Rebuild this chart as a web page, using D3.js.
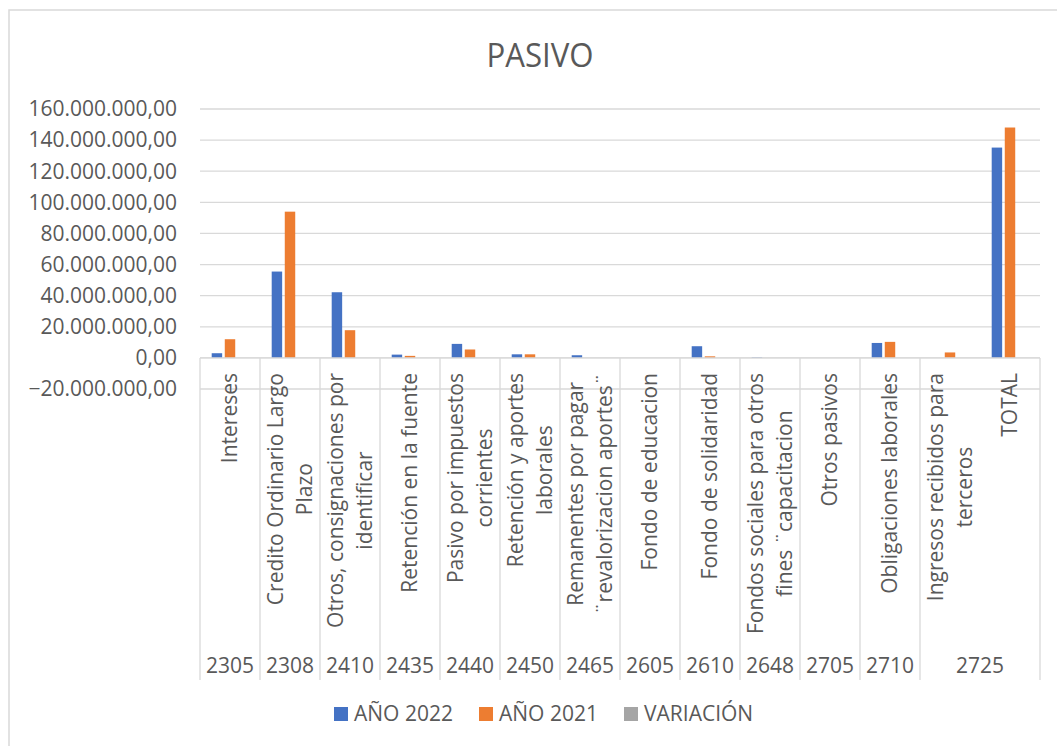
<!DOCTYPE html>
<html>
<head>
<meta charset="utf-8">
<script src="https://cdn.jsdelivr.net/npm/d3@7"></script>
<style>
  html, body { margin: 0; padding: 0; background: #fff; }
  svg { display: block; }
  text { font-family: "Open Sans", "Noto Sans", sans-serif; fill: #595959; }
</style>
</head>
<body>
<svg id="chart" width="1057" height="746"></svg>
<script>
// ---- data ----
const categories = [
  "Intereses",
  "Credito Ordinario Largo\nPlazo",
  "Otros, consignaciones por\nidentificar",
  "Retención en la fuente",
  "Pasivo por impuestos\ncorrientes",
  "Retención y aportes\nlaborales",
  "Remanentes por pagar\n¨revalorizacion aportes¨",
  "Fondo de educacion",
  "Fondo de solidaridad",
  "Fondos sociales para otros\nfines ¨capacitacion",
  "Otros pasivos",
  "Obligaciones laborales",
  "Ingresos recibidos para\nterceros",
  "TOTAL"
];
const codes = ["2305","2308","2410","2435","2440","2450","2465","2605","2610","2648","2705","2710","2725","2725"];
const seriesNames = ["AÑO 2022", "AÑO 2021", "VARIACIÓN"];
const ano2022 = [3000000, 55500000, 42200000, 2100000, 9000000, 2300000, 1700000, 0, 7500000, 300000, 0, 9600000, 0, 135200000];
const ano2021 = [12000000, 94000000, 17800000, 1300000, 5400000, 2300000, 0, 0, 1000000, 0, 0, 10300000, 3500000, 148100000];
const variacion = [0, 0, 0, 0, 0, 0, 0, 0, 0, 0, 0, 0, 0, 0];
const yTicks = [-20000000, 0, 20000000, 40000000, 60000000, 80000000, 100000000, 120000000, 140000000, 160000000];
const title = "PASIVO";

const colors = ["#4472C4", "#ED7D31", "#A5A5A5"];
const seriesValues = [ano2022, ano2021, variacion];

const svg = d3.select("#chart");

// chart border (only top/left visible in the frame)
svg.append("rect").attr("x", 9).attr("y", 10).attr("width", 1200).attr("height", 900)
  .attr("fill", "none").attr("stroke", "#d9d9d9").attr("stroke-width", 1.5);

const plotLeft = 200, plotRight = 1040, plotTop = 109, plotBottom = 389;

const x0 = d3.scaleBand().domain(d3.range(categories.length)).range([plotLeft, plotRight]).paddingInner(0).paddingOuter(0);
const x1 = d3.scaleBand().domain(d3.range(seriesNames.length)).range([11.7, 48.3]).paddingInner(0.2).paddingOuter(0);
const y = d3.scaleLinear().domain([-20000000, 160000000]).range([plotBottom, plotTop]);

// number format 160.000.000,00
const loc = d3.formatLocale({decimal: ",", thousands: ".", grouping: [3], currency: ["", ""]});
const fmt = loc.format(",.2f");

// gridlines
svg.append("g").selectAll("line").data(yTicks).join("line")
  .attr("x1", plotLeft).attr("x2", plotRight)
  .attr("y1", d => y(d)).attr("y2", d => y(d))
  .attr("stroke", "#d9d9d9").attr("stroke-width", 1.3);

// y axis labels
svg.append("g").selectAll("text").data(yTicks).join("text")
  .attr("x", 177).attr("y", d => y(d)).attr("dy", "0.35em")
  .attr("text-anchor", "end").attr("font-size", 21)
  .text(d => fmt(d));

// bars
const gBars = svg.append("g");
seriesValues.forEach((vals, si) => {
  gBars.append("g").selectAll("rect").data(vals).join("rect")
    .attr("x", (d, i) => x0(i) + x1(si))
    .attr("width", x1.bandwidth())
    .attr("y", d => y(Math.max(0, d)))
    .attr("height", d => Math.abs(y(d) - y(0)))
    .attr("fill", colors[si]);
});

// category axis line
svg.append("line").attr("x1", plotLeft).attr("x2", plotRight)
  .attr("y1", y(0)).attr("y2", y(0)).attr("stroke", "#d9d9d9").attr("stroke-width", 1.3);

// separators between code groups
const catAxisBottom = 680;
const sepIdx = [];
for (let i = 0; i <= categories.length; i++) {
  if (i === 0 || i === categories.length || codes[i] !== codes[i - 1]) sepIdx.push(i);
}
svg.append("g").selectAll("line").data(sepIdx).join("line")
  .attr("x1", i => i < categories.length ? x0(i) : plotRight)
  .attr("x2", i => i < categories.length ? x0(i) : plotRight)
  .attr("y1", y(0)).attr("y2", catAxisBottom)
  .attr("stroke", "#d9d9d9").attr("stroke-width", 1.3);

// level-1 category labels (rotated)
const lineH = 28.5;
const labelTop = 373;
const gLab = svg.append("g");
categories.forEach((c, i) => {
  const lines = c.split("\n");
  const cx = x0(i) + x0.bandwidth() / 2;
  const n = lines.length;
  const t = gLab.append("text")
    .attr("font-size", 21)
    .attr("text-anchor", "middle")
    .attr("transform", `translate(${cx},0) rotate(-90)`);
  // measure widest line for block alignment at top
  const tmp = gLab.append("text").attr("font-size", 21);
  let maxW = 0;
  lines.forEach(l => { tmp.text(l); maxW = Math.max(maxW, tmp.node().getComputedTextLength()); });
  tmp.remove();
  const centerAlong = -(labelTop + maxW / 2);
  lines.forEach((l, li) => {
    const off = (li - (n - 1) / 2) * lineH;
    t.append("tspan").attr("x", centerAlong).attr("y", off).attr("dy", "0.35em").text(l);
  });
});

// level-2 code labels
const groups = [];
codes.forEach((c, i) => {
  if (groups.length && groups[groups.length - 1].code === c) groups[groups.length - 1].end = i;
  else groups.push({code: c, start: i, end: i});
});
svg.append("g").selectAll("text").data(groups).join("text")
  .attr("x", g => (x0(g.start) + x0(g.end) + x0.bandwidth()) / 2)
  .attr("y", 673).attr("text-anchor", "middle").attr("font-size", 21)
  .text(g => g.code);

// title
svg.append("text").attr("x", 540).attr("y", 67).attr("text-anchor", "middle")
  .attr("font-size", 32).attr("textLength", 107).attr("lengthAdjust", "spacingAndGlyphs")
  .text(title);

// legend
const legendX = [334, 479, 624];
const lg = svg.append("g");
seriesNames.forEach((s, i) => {
  lg.append("rect").attr("x", legendX[i]).attr("y", 707).attr("width", 14).attr("height", 14).attr("fill", colors[i]);
  lg.append("text").attr("x", legendX[i] + 20).attr("y", 721).attr("font-size", 21).text(s);
});
</script>
</body>
</html>
